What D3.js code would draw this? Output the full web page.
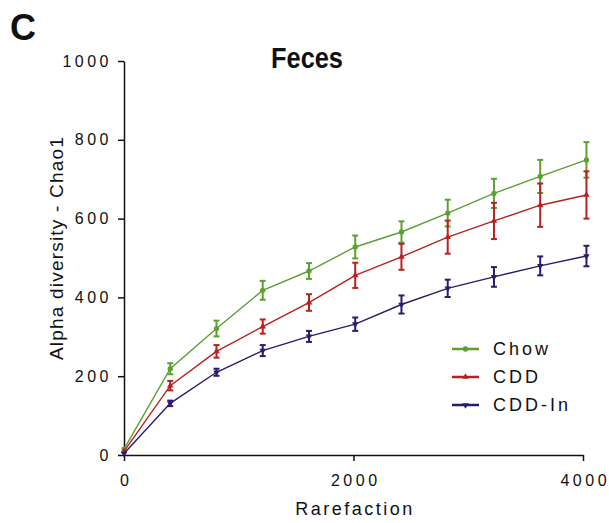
<!DOCTYPE html>
<html>
<head>
  <style>
    body { margin: 0; background: white; }
    text { font-family: "Liberation Sans", Arial, sans-serif; fill: #111; }
    .tick text { letter-spacing: 3.5px; font-size: 16px; }
  </style>
</head>
<body>
  <script src="https://d3js.org/d3.v7.min.js"></script>
  <script>
    var width = 609, height = 523;

    // rarefaction depths
    var depths = [0, 403, 806, 1209, 1612, 2015, 2418, 2821, 3224, 3627, 4030];

    var chowMean = [15, 219, 321, 418, 467, 528, 566, 614, 664, 707, 749];
    var chowErr  = [4, 14, 20, 24, 20, 29, 27, 34, 37, 42, 45];
    var cddMean  = [9, 176, 263, 326, 387, 456, 503, 553, 594, 634, 660];
    var cddErr   = [3, 12, 16, 18, 21, 32, 33, 42, 46, 55, 60];
    var inMean   = [4, 131, 210, 265, 301, 332, 382, 423, 452, 480, 505];
    var inErr    = [2, 7, 9, 14, 14, 17, 23, 22, 25, 24, 26];

    var seriesNames = ["Chow", "CDD", "CDD-In"];
    var seriesColors = ["#5e9f32", "#b8211f", "#2b1a6e"];
    var yTicks = [0, 200, 400, 600, 800, 1000];
    var xTicks = [0, 2000, 4000];

    var series = [
      {name: seriesNames[0], color: seriesColors[0], mean: chowMean, err: chowErr, symbol: "circle"},
      {name: seriesNames[1], color: seriesColors[1], mean: cddMean, err: cddErr, symbol: "up"},
      {name: seriesNames[2], color: seriesColors[2], mean: inMean, err: inErr, symbol: "down"}
    ];

    var svg = d3.select("body").append("svg")
        .attr("width", width).attr("height", height);

    var x = d3.scaleLinear().domain([0, 4000]).range([124, 583]);
    var y = d3.scaleLinear().domain([0, 1000]).range([455, 61]);

    // axes
    var yAxis = svg.append("g")
        .attr("transform", "translate(" + x(0) + ",0)")
        .call(d3.axisLeft(y).tickValues(yTicks).tickFormat(d3.format("d"))
          .tickSize(6).tickSizeOuter(0).tickPadding(6));
    var xAxis = svg.append("g")
        .attr("transform", "translate(0," + y(0) + ")")
        .call(d3.axisBottom(x).tickValues(xTicks).tickFormat(d3.format("d"))
          .tickSize(6).tickSizeOuter(0).tickPadding(14));
    svg.selectAll(".domain, .tick line").attr("stroke", "#111").attr("stroke-width", 1.5);
    svg.selectAll(".tick text").attr("fill", "#111");
    // letter-spacing adds a gap after the last glyph, shift to compensate
    xAxis.selectAll(".tick text").attr("dx", "1.75px");

    function symbolPath(s) {
      if (s === "circle") return d3.symbol().type(d3.symbolCircle).size(22)();
      return d3.symbol().type(d3.symbolTriangle).size(18)();
    }

    series.forEach(function(s) {
      var g = svg.append("g");
      var pts = depths.map(function(d, i) { return {x: d, m: s.mean[i], e: s.err[i]}; });

      var line = d3.line().x(function(d) { return x(d.x); }).y(function(d) { return y(d.m); });
      g.append("path").datum(pts)
        .attr("fill", "none").attr("stroke", s.color).attr("stroke-width", 1.4)
        .attr("d", line);

      var bars = g.selectAll(".eb").data(pts.slice(1)).enter().append("g")
        .attr("stroke", s.color).attr("stroke-width", 2);
      bars.append("line")
        .attr("x1", function(d) { return x(d.x); }).attr("x2", function(d) { return x(d.x); })
        .attr("y1", function(d) { return y(d.m - d.e); }).attr("y2", function(d) { return y(d.m + d.e); });
      [1, -1].forEach(function(sign) {
        bars.append("line")
          .attr("x1", function(d) { return x(d.x) - 3; }).attr("x2", function(d) { return x(d.x) + 3; })
          .attr("y1", function(d) { return y(d.m + sign * d.e); }).attr("y2", function(d) { return y(d.m + sign * d.e); });
      });

      g.selectAll(".mk").data(pts).enter().append("path")
        .attr("d", symbolPath(s.symbol))
        .attr("fill", s.color)
        .attr("transform", function(d) {
          return "translate(" + x(d.x) + "," + y(d.m) + ")" + (s.symbol === "down" ? " rotate(180)" : "");
        });
    });

    // legend
    var legend = svg.append("g");
    series.forEach(function(s, i) {
      var ly = 349 + i * 28;
      legend.append("line").attr("x1", 452).attr("x2", 479).attr("y1", ly).attr("y2", ly)
        .attr("stroke", s.color).attr("stroke-width", 2.5);
      legend.append("path").attr("d", symbolPath(s.symbol)).attr("fill", s.color)
        .attr("transform", "translate(465.5," + ly + ")" + (s.symbol === "down" ? " rotate(180)" : ""));
      legend.append("text").attr("x", 493).attr("y", ly).attr("dy", "0.36em")
        .style("font-size", "18px").style("letter-spacing", "3px")
        .text(s.name);
    });

    // titles
    svg.append("text").attr("x", 10).attr("y", 40)
      .style("font-size", "36px").style("font-weight", "bold").text("C");
    svg.append("text").attr("x", 307).attr("y", 68).attr("text-anchor", "middle")
      .attr("textLength", 72).attr("lengthAdjust", "spacingAndGlyphs")
      .style("font-size", "29px").style("font-weight", "bold").text("Feces");
    svg.append("text").attr("x", 355).attr("y", 515).attr("text-anchor", "middle")
      .style("font-size", "18px").style("letter-spacing", "2.5px").text("Rarefaction");
    svg.append("text")
      .attr("transform", "translate(63,248) rotate(-90)")
      .attr("text-anchor", "middle")
      .style("font-size", "19px").style("letter-spacing", "1.2px")
      .text("Alpha diversity - Chao1");
  </script>
</body>
</html>
